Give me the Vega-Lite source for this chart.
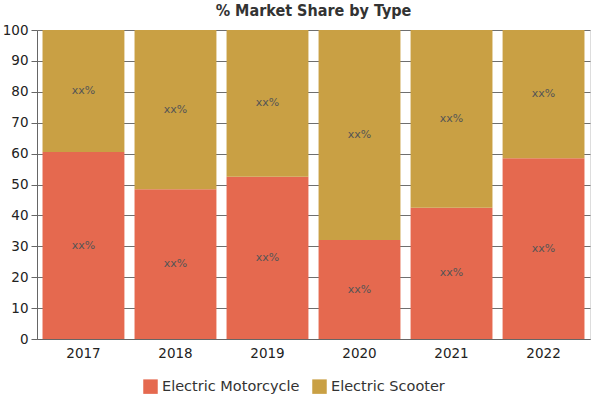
{
  "$schema": "https://vega.github.io/schema/vega-lite/v6.json",
  "width": 553,
  "height": 309,
  "autosize": {"type": "none"},
  "padding": {"left": 37, "right": 10, "top": 30, "bottom": 61},
  "background": "white",
  "title": {
    "text": "% Market Share by Type",
    "font": "DejaVu Sans Condensed",
    "fontSize": 16,
    "fontWeight": "bold",
    "color": "#333333",
    "anchor": "middle",
    "frame": "group",
    "offset": 4
  },
  "data": {
    "values": [
      {"year": "2017", "type": "Electric Motorcycle", "share": 60.5},
      {"year": "2017", "type": "Electric Scooter", "share": 39.5},
      {"year": "2018", "type": "Electric Motorcycle", "share": 48.5},
      {"year": "2018", "type": "Electric Scooter", "share": 51.5},
      {"year": "2019", "type": "Electric Motorcycle", "share": 52.5},
      {"year": "2019", "type": "Electric Scooter", "share": 47.5},
      {"year": "2020", "type": "Electric Motorcycle", "share": 32},
      {"year": "2020", "type": "Electric Scooter", "share": 68},
      {"year": "2021", "type": "Electric Motorcycle", "share": 42.5},
      {"year": "2021", "type": "Electric Scooter", "share": 57.5},
      {"year": "2022", "type": "Electric Motorcycle", "share": 58.5},
      {"year": "2022", "type": "Electric Scooter", "share": 41.5}
    ]
  },
  "transform": [
    {"stack": "share", "groupby": ["year"], "sort": [{"field": "type", "order": "ascending"}], "as": ["y0", "y1"]},
    {"calculate": "(datum.y0 + datum.y1) / 2", "as": "ymid"}
  ],
  "encoding": {
    "x": {
      "field": "year",
      "type": "nominal",
      "scale": {"paddingInner": 0.11, "paddingOuter": 0.06},
      "axis": {
        "title": null,
        "labelAngle": 0,
        "labelFont": "DejaVu Sans",
        "labelFontSize": 13.5,
        "labelColor": "#222222",
        "domainColor": "#666666",
        "ticks": false,
        "labelPadding": 7
      }
    }
  },
  "layer": [
    {
      "mark": {"type": "bar"},
      "encoding": {
        "y": {
          "field": "y0",
          "type": "quantitative",
          "scale": {"domain": [0, 100], "nice": false},
          "axis": {
            "title": null,
            "values": [0, 10, 20, 30, 40, 50, 60, 70, 80, 90, 100],
            "labelOverlap": false,
            "labelFont": "DejaVu Sans",
            "labelFontSize": 13.5,
            "labelColor": "#222222",
            "domainColor": "#666666",
            "tickColor": "#666666",
            "tickSize": 6,
            "gridColor": "#6f6f6f",
            "gridWidth": 1,
            "labelPadding": 3
          }
        },
        "y2": {"field": "y1"},
        "color": {
          "field": "type",
          "type": "nominal",
          "scale": {"domain": ["Electric Motorcycle", "Electric Scooter"], "range": ["#E5694F", "#C9A044"]},
          "legend": {
            "orient": "none",
            "legendX": 106,
            "legendY": 349,
            "direction": "horizontal",
            "title": null,
            "symbolType": "square",
            "symbolSize": 210,
            "symbolStrokeWidth": 0,
            "symbolOpacity": 1,
            "labelFont": "DejaVu Sans",
            "labelFontSize": 14.5,
            "labelFontWeight": 500,
            "labelColor": "#333333",
            "columnPadding": 12
          }
        }
      }
    },
    {
      "mark": {"type": "text", "font": "DejaVu Sans", "fontSize": 11, "color": "#555555"},
      "encoding": {
        "y": {"field": "ymid", "type": "quantitative", "axis": null},
        "text": {"value": "xx%"}
      }
    }
  ],
  "resolve": {"axis": {"y": "independent"}}
}
